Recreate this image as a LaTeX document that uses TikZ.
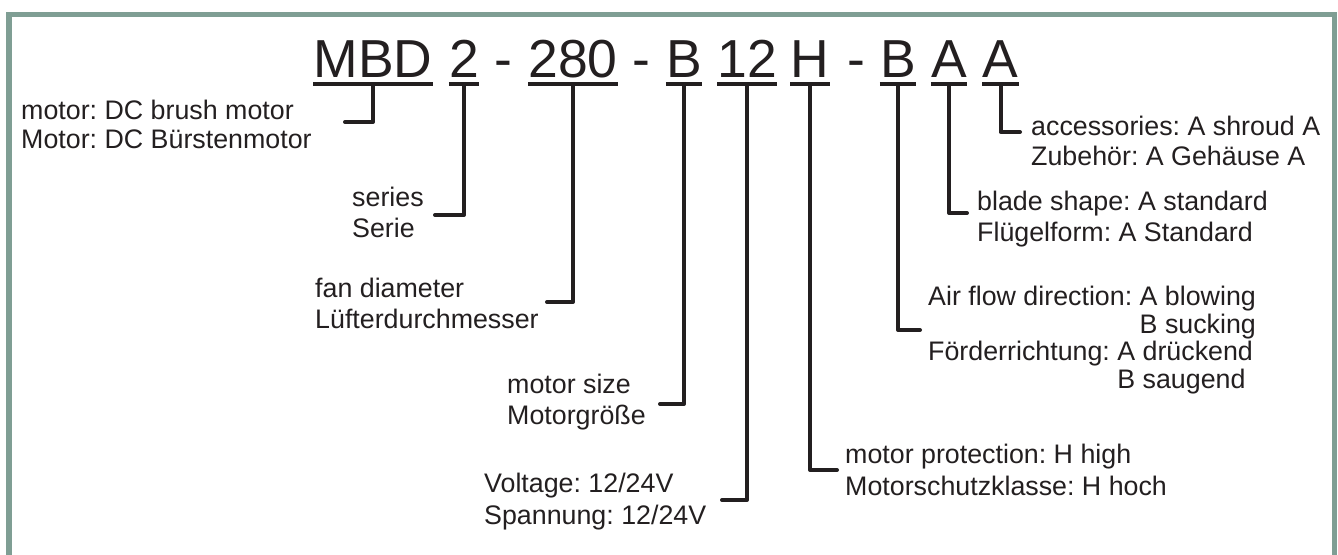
\documentclass[tikz,border=0pt]{standalone}
\usepackage{fontspec}
\setmainfont{Liberation Sans}
\frenchspacing
\definecolor{ink}{RGB}{35,31,32}
\definecolor{framecol}{RGB}{127,158,148}
\begin{document}
\begin{tikzpicture}[x=1pt,y=-1pt,
  title/.style={font=\fontsize{53.5}{60}\selectfont, inner sep=0pt, anchor=base, text=ink},
  lab/.style={font=\fontsize{26.8}{30}\selectfont, inner sep=0pt, anchor=base west, text=ink},
  uline/.style={draw=ink, line width=3.5pt},
  conn/.style={draw=ink, line width=4pt, line join=round, line cap=round}]
\useasboundingbox (0,0) rectangle (1338,554);
\fill[white] (0,0) rectangle (1338,554);
\draw[framecol, line width=5.5pt] (9,560) -- (9,14.5) -- (1334.5,14.5) -- (1334.5,560);

% title
\node[title] (t1) at (373,77.3) {MBD};
\node[title] (t2) at (464,77.3) {2};
\node[title] (d1) at (503.5,77.3) {-};
\node[title] (t3) at (573,77.3) {280};
\node[title] (d2) at (641.5,77.3) {-};
\node[title] (t4) at (684,77.3) {B};
\node[title] (t5) at (747,77.3) {12};
\node[title] (t6) at (810,77.3) {H};
\node[title] (d3) at (856.5,77.3) {-};
\node[title] (t7) at (898,77.3) {B};
\node[title] (t8) at (949,77.3) {A};
\node[title] (t9) at (1000.5,77.3) {A};
\foreach \t in {t1,t2,t3,t4,t5,t6,t7,t8,t9}
  \draw[uline] ([yshift=-6.7pt]\t.base west) -- ([yshift=-6.7pt]\t.base east);

% labels
\node[lab] (l1a) at (21,119) {motor: DC brush motor};
\node[lab] (l1b) at (21,148) {Motor: DC Bürstenmotor};
\node[lab] (l2a) at (352,206) {series};
\node[lab] (l2b) at (352,237) {Serie};
\node[lab] (l3a) at (315,297) {fan diameter};
\node[lab] (l3b) at (315,328) {Lüfterdurchmesser};
\node[lab] (l4a) at (507,393) {motor size};
\node[lab] (l4b) at (507,424) {Motorgröße};
\node[lab] (l5a) at (484,492) {Voltage: 12/24V};
\node[lab] (l5b) at (484,524) {Spannung: 12/24V};
\node[lab] (l6a) at (845,463) {motor protection: H high};
\node[lab] (l6b) at (845,495) {Motorschutzklasse: H hoch};
\node[lab] (l7a) at (928,305) {Air flow direction: A blowing};
\node[lab] (l7b) at (928,333) {\hphantom{Air flow direction: }B sucking};
\node[lab] (l7c) at (928,360) {Förderrichtung: A drückend};
\node[lab] (l7d) at (928,388) {\hphantom{Förderrichtung: }B saugend};
\node[lab] (l8a) at (977,210) {blade shape: A standard};
\node[lab] (l8b) at (977,241) {Flügelform: A Standard};
\node[lab] (l9a) at (1031,135) {accessories: A shroud A};
\node[lab] (l9b) at (1031,165) {Zubehör: A Gehäuse A};

% connector ends
\coordinate (e1) at (345,122);
\coordinate (e2) at (435,215);
\coordinate (e3) at (547,302);
\coordinate (e4) at (660,404);
\coordinate (e5) at (722,500);
\coordinate (e6) at (837,470);
\coordinate (e7) at (920,330);
\coordinate (e8) at (967,213);
\coordinate (e9) at (1020,132);

\draw[conn] ([yshift=-6.7pt]t1.base) |- (e1);
\draw[conn] ([yshift=-6.7pt]t2.base) |- (e2);
\draw[conn] ([yshift=-6.7pt]t3.base) |- (e3);
\draw[conn] ([yshift=-6.7pt]t4.base) |- (e4);
\draw[conn] ([yshift=-6.7pt]t5.base) |- (e5);
\draw[conn] ([yshift=-6.7pt]t6.base) |- (e6);
\draw[conn] ([yshift=-6.7pt]t7.base) |- (e7);
\draw[conn] ([yshift=-6.7pt]t8.base) |- (e8);
\draw[conn] ([yshift=-6.7pt]t9.base) |- (e9);
\end{tikzpicture}
\end{document}
